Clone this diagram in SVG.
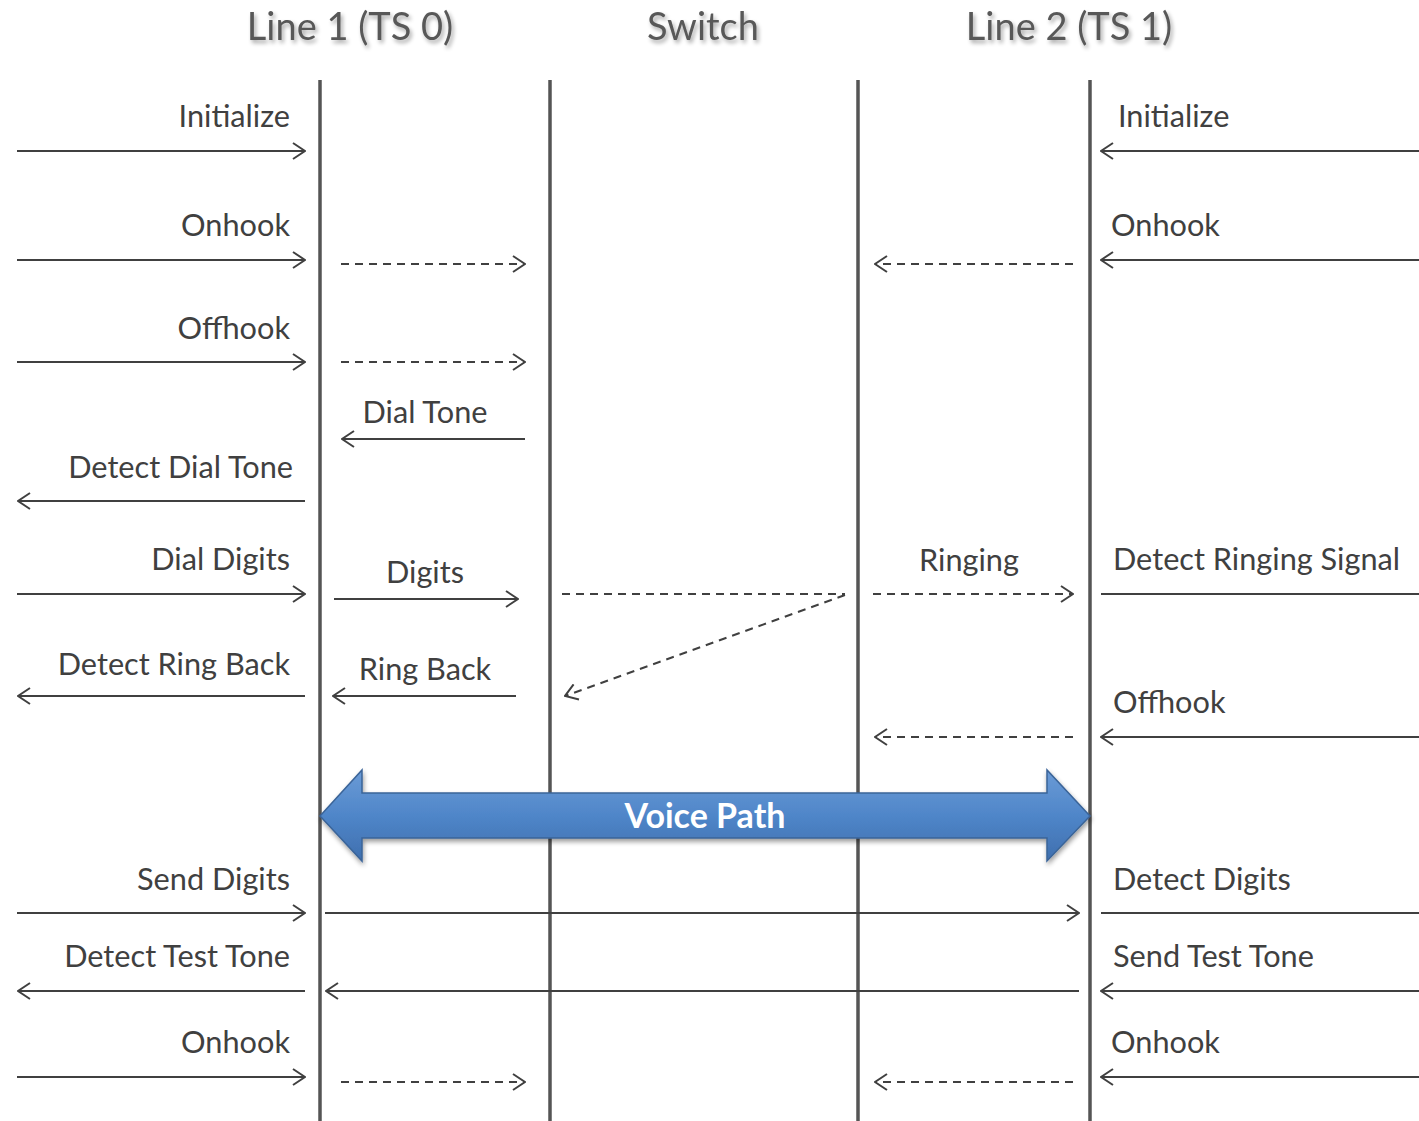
<svg xmlns="http://www.w3.org/2000/svg" width="1419" height="1121" viewBox="0 0 1419 1121">
  <style>
    .title { font-family: Lato, "Noto Sans", sans-serif; font-size: 38px; fill: #595959; }
    .lbl { font-family: Lato, "Noto Sans", sans-serif; font-size: 30.7px; fill: #404040; }
    .end { text-anchor: end; }
    .mid { text-anchor: middle; }
    .life { stroke: #555555; stroke-width: 3.5; fill: none; }
    .msg { stroke: #404040; stroke-width: 2; fill: none; }
    .dash { stroke: #404040; stroke-width: 2; fill: none; stroke-dasharray: 8 6; }
    .vp { font-family: Lato, "Noto Sans", sans-serif; font-size: 34px; font-weight: bold; fill: #ffffff; }
  </style>
  <defs>
    <marker id="open" viewBox="0 0 14 18" refX="13" refY="9" markerWidth="14" markerHeight="18" markerUnits="userSpaceOnUse" orient="auto-start-reverse">
      <path d="M1,1 L13,9 L1,17" fill="none" stroke="#404040" stroke-width="2"/>
    </marker>
    <filter id="tshadow" x="-10%" y="-20%" width="130%" height="160%">
      <feGaussianBlur in="SourceAlpha" stdDeviation="2"/>
      <feOffset dx="2" dy="3" result="b"/>
      <feComponentTransfer><feFuncA type="linear" slope="0.35"/></feComponentTransfer>
      <feMerge><feMergeNode/><feMergeNode in="SourceGraphic"/></feMerge>
    </filter>
    <filter id="ashadow" x="-5%" y="-20%" width="110%" height="150%">
      <feGaussianBlur in="SourceAlpha" stdDeviation="2.5"/>
      <feOffset dx="1" dy="3" result="b"/>
      <feComponentTransfer><feFuncA type="linear" slope="0.4"/></feComponentTransfer>
      <feMerge><feMergeNode/><feMergeNode in="SourceGraphic"/></feMerge>
    </filter>
    <linearGradient id="blue" x1="0" y1="0" x2="0" y2="1">
      <stop offset="0" stop-color="#6b9bd6"/>
      <stop offset="0.5" stop-color="#4f86c9"/>
      <stop offset="1" stop-color="#3f6fae"/>
    </linearGradient>
  </defs>

  <rect width="1419" height="1121" fill="#ffffff"/>

  <!-- column headings -->
  <g id="headings" filter="url(#tshadow)">
    <text class="title mid" x="350" y="40">Line 1 (TS 0)</text>
    <text class="title mid" x="703" y="40">Switch</text>
    <text class="title mid" x="1069" y="40">Line 2 (TS 1)</text>
  </g>

  <!-- lifelines -->
  <g id="lifelines">
    <line id="line1" class="life" x1="320" y1="80" x2="320" y2="1121"/>
    <line id="switch-in" class="life" x1="550" y1="80" x2="550" y2="1121"/>
    <line id="switch-out" class="life" x1="858" y1="80" x2="858" y2="1121"/>
    <line id="line2" class="life" x1="1090" y1="80" x2="1090" y2="1121"/>
  </g>

  <!-- voice path -->
  <g id="voice-path">
    <path d="M320,816 L362,770 L362,793 L1047,793 L1047,770 L1090,816 L1047,861 L1047,838 L362,838 L362,861 Z" fill="url(#blue)" stroke="#3a6498" stroke-width="1.5" filter="url(#ashadow)"/>
    <text class="vp mid" x="705" y="828">Voice Path</text>
  </g>

  <!-- labels -->
  <g id="labels">
    <text class="lbl end" x="290" y="127">Initialize</text>
    <text class="lbl" x="1118" y="127">Initialize</text>
    <text class="lbl end" x="290" y="236">Onhook</text>
    <text class="lbl" x="1111" y="236">Onhook</text>
    <text class="lbl end" x="290" y="339">Offhook</text>
    <text class="lbl mid" x="425" y="423">Dial Tone</text>
    <text class="lbl end" x="293" y="478">Detect Dial Tone</text>
    <text class="lbl end" x="290" y="570">Dial Digits</text>
    <text class="lbl mid" x="425" y="583">Digits</text>
    <text class="lbl mid" x="969" y="571">Ringing</text>
    <text class="lbl" x="1113" y="570">Detect Ringing Signal</text>
    <text class="lbl end" x="290" y="675">Detect Ring Back</text>
    <text class="lbl mid" x="425" y="680">Ring Back</text>
    <text class="lbl" x="1113" y="713">Offhook</text>
    <text class="lbl end" x="290" y="890">Send Digits</text>
    <text class="lbl" x="1113" y="890">Detect Digits</text>
    <text class="lbl end" x="290" y="967">Detect Test Tone</text>
    <text class="lbl" x="1113" y="967">Send Test Tone</text>
    <text class="lbl end" x="290" y="1053">Onhook</text>
    <text class="lbl" x="1111" y="1053">Onhook</text>
  </g>

  <!-- messages -->
  <g id="connectors">
    <!-- Initialize -->
    <line class="msg" x1="17" y1="151" x2="305" y2="151" marker-end="url(#open)"/>
    <line class="msg" x1="1419" y1="151" x2="1101" y2="151" marker-end="url(#open)"/>
    <!-- Onhook -->
    <line class="msg" x1="17" y1="260" x2="305" y2="260" marker-end="url(#open)"/>
    <line class="dash" x1="341" y1="264" x2="525" y2="264" marker-end="url(#open)"/>
    <line class="dash" x1="1073" y1="264" x2="875" y2="264" marker-end="url(#open)"/>
    <line class="msg" x1="1419" y1="260" x2="1101" y2="260" marker-end="url(#open)"/>
    <!-- Offhook -->
    <line class="msg" x1="17" y1="362" x2="305" y2="362" marker-end="url(#open)"/>
    <line class="dash" x1="341" y1="362" x2="525" y2="362" marker-end="url(#open)"/>
    <!-- Dial tone -->
    <line class="msg" x1="525" y1="439" x2="342" y2="439" marker-end="url(#open)"/>
    <line class="msg" x1="305" y1="501" x2="18" y2="501" marker-end="url(#open)"/>
    <!-- Digits / ringing -->
    <line class="msg" x1="17" y1="594" x2="305" y2="594" marker-end="url(#open)"/>
    <line class="msg" x1="334" y1="599" x2="518" y2="599" marker-end="url(#open)"/>
    <line class="dash" x1="562" y1="594" x2="845" y2="594"/>
    <line class="dash" x1="845" y1="595" x2="565" y2="696" marker-end="url(#open)"/>
    <line class="dash" x1="873" y1="594" x2="1073" y2="594" marker-end="url(#open)"/>
    <line class="msg" x1="1101" y1="594" x2="1419" y2="594"/>
    <!-- Ring back -->
    <line class="msg" x1="305" y1="696" x2="18" y2="696" marker-end="url(#open)"/>
    <line class="msg" x1="516" y1="696" x2="333" y2="696" marker-end="url(#open)"/>
    <!-- Line 2 offhook -->
    <line class="msg" x1="1419" y1="737" x2="1101" y2="737" marker-end="url(#open)"/>
    <line class="dash" x1="1073" y1="737" x2="875" y2="737" marker-end="url(#open)"/>
    <!-- Digits over voice path -->
    <line class="msg" x1="17" y1="913" x2="305" y2="913" marker-end="url(#open)"/>
    <line class="msg" x1="325" y1="913" x2="1079" y2="913" marker-end="url(#open)"/>
    <line class="msg" x1="1101" y1="913" x2="1419" y2="913"/>
    <!-- Test tone -->
    <line class="msg" x1="305" y1="991" x2="18" y2="991" marker-end="url(#open)"/>
    <line class="msg" x1="1079" y1="991" x2="326" y2="991" marker-end="url(#open)"/>
    <line class="msg" x1="1419" y1="991" x2="1101" y2="991" marker-end="url(#open)"/>
    <!-- Onhook -->
    <line class="msg" x1="17" y1="1077" x2="305" y2="1077" marker-end="url(#open)"/>
    <line class="dash" x1="341" y1="1082" x2="525" y2="1082" marker-end="url(#open)"/>
    <line class="dash" x1="1073" y1="1082" x2="875" y2="1082" marker-end="url(#open)"/>
    <line class="msg" x1="1419" y1="1077" x2="1101" y2="1077" marker-end="url(#open)"/>
  </g>
</svg>
